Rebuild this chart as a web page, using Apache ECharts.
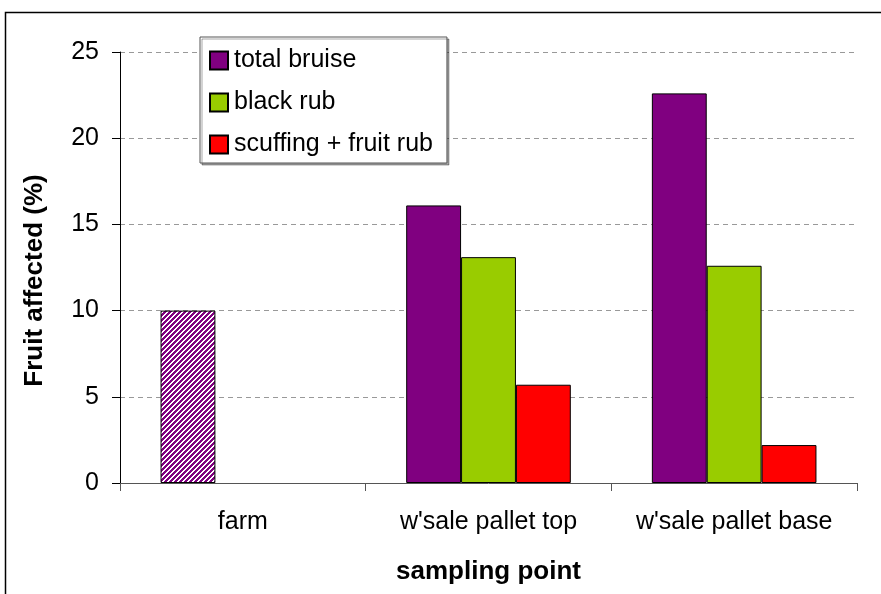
<!DOCTYPE html>
<html><head><meta charset="utf-8">
<script src="https://cdn.jsdelivr.net/npm/echarts@6/dist/echarts.min.js"></script>
<style>html,body{margin:0;padding:0;background:#fff}#c{width:881px;height:594px}</style>
</head><body><div id="c"></div>
<script>
var categories = ["farm", "w'sale pallet top", "w'sale pallet base"];
var totalBruise = [10, 16.1, 22.6];
var blackRub = [null, 13.1, 12.6];
var scuffing = [null, 5.7, 2.2];
var seriesNames = ["total bruise", "black rub", "scuffing + fruit rub"];
var colors = ["#800080", "#99cc00", "#ff0000"];

var pc = document.createElement('canvas');
pc.width = 5; pc.height = 5;
var g = pc.getContext('2d');
g.fillStyle = '#fff'; g.fillRect(0,0,5,5);
g.fillStyle = '#800080';
for (var x=0;x<5;x++) for (var y=0;y<5;y++) if ((x+y)%5 < 3) g.fillRect(x,y,1,1);

var font = 'Liberation Sans, Arial, sans-serif';
var tb = totalBruise.map(function(v,i){
  return i===0 ? {value:v, itemStyle:{color:{image:pc, repeat:'repeat'}}} : v;
});
var datas = [tb, blackRub, scuffing];
var chart = echarts.init(document.getElementById('c'));
chart.setOption({
  animation:false,
  graphic:[{type:'rect', shape:{x:5.5,y:12.5,width:900,height:620}, style:{fill:'none', stroke:'#000', lineWidth:1.5}}],
  grid:{left:120, right:24, top:52, bottom:111},
  legend:{
    orient:'vertical', left:200, top:37, data:seriesNames,
    itemWidth:18, itemHeight:18, itemGap:17,
    padding:[11,14,6,9],
    borderColor:'#555', borderWidth:1, backgroundColor:'#fff',
    shadowColor:'rgba(0,0,0,0.35)', shadowOffsetX:2, shadowOffsetY:2,
    textStyle:{fontFamily:font, fontSize:25, color:'#000', lineHeight:25, padding:[0,0,0,1]},
    icon:'rect'
  },
  xAxis:{
    type:'category', data:categories,
    axisLine:{lineStyle:{color:'#555', width:1}},
    axisTick:{show:true, length:8, lineStyle:{color:'#555'}},
    axisLabel:{fontFamily:font, fontSize:25, color:'#000', margin:27, interval:0, hideOverlap:false},
    name:'sampling point', nameLocation:'middle', nameGap:76,
    nameTextStyle:{fontFamily:font, fontSize:26, fontWeight:'bold', color:'#000'}
  },
  yAxis:{
    type:'value', min:0, max:25, interval:5,
    axisLine:{show:true, lineStyle:{color:'#000'}},
    axisTick:{show:true, length:8, lineStyle:{color:'#000'}},
    axisLabel:{fontFamily:font, fontSize:25, color:'#000', margin:21},
    splitLine:{lineStyle:{color:'#999', type:[5,4]}},
    name:'Fruit affected (%)', nameLocation:'middle', nameGap:72,
    nameTextStyle:{fontFamily:font, fontSize:26, fontWeight:'bold', color:'#000', padding:[0,26,0,0]}
  },
  series: seriesNames.map(function(n,i){
    return {name:n, type:'bar', data:datas[i], barGap:'0%', barCategoryGap:'33%',
      itemStyle:{color:colors[i], borderColor:'#000', borderWidth:1}};
  })
});
</script></body></html>
